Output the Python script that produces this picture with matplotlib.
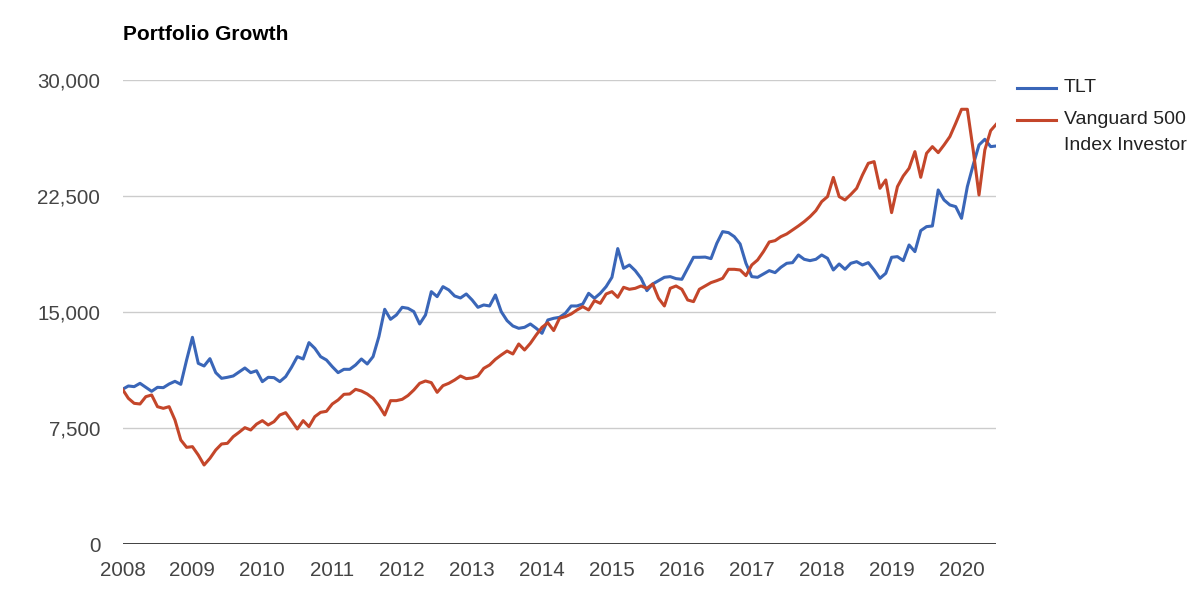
import numpy as np
import matplotlib.pyplot as plt
from matplotlib.lines import Line2D
from matplotlib.ticker import FuncFormatter

plt.rcParams['font.family'] = ['Liberation Sans', 'DejaVu Sans']

# monthly portfolio values, Jan 2008 -> Jul 2020
tlt = [10000, 10216, 10173, 10389, 10130, 9872, 10130, 10108, 10346, 10518,
       10324, 11897, 13363, 11681, 11509, 11983, 11078, 10712, 10777, 10863,
       11121, 11380, 11078, 11200, 10497, 10777, 10755, 10497, 10820, 11423,
       12113, 11962, 13019, 12652, 12113, 11897, 11466, 11078, 11294, 11294,
       11574, 11962, 11639, 12113, 13406, 15174, 14527, 14807, 15303, 15239,
       15023, 14225, 14807, 16316, 15993, 16640, 16424, 16036, 15906, 16165,
       15777, 15303, 15454, 15389, 16100, 15023, 14441, 14096, 13945, 14010,
       14225, 13945, 13622, 14484, 14592, 14656, 14915, 15389, 15389, 15518,
       16208, 15885, 16208, 16640, 17243, 19100, 17825, 18040, 17674, 17178,
       16380, 16812, 17027, 17243, 17286, 17157, 17114, 17825, 18536, 18536,
       18550, 18450, 19441, 20196, 20131, 19872, 19398, 18148, 17286, 17243,
       17458, 17674, 17545, 17890, 18148, 18191, 18687, 18407, 18320, 18407,
       18687, 18471, 17717, 18105, 17760, 18148, 18255, 18040, 18191, 17717,
       17178, 17501, 18536, 18579, 18320, 19333, 18902, 20260, 20519, 20562,
       22890, 22243, 21920, 21812, 21057, 23105, 24506, 25799, 26166, 25691,
       25735]

vfinx = [10000, 9419, 9095, 9052, 9526, 9634, 8879, 8771, 8879, 8018,
         6725, 6250, 6293, 5755, 5108, 5539, 6078, 6466, 6509, 6940,
         7221, 7522, 7371, 7750, 7975, 7695, 7910, 8341, 8491, 7975,
         7436, 7975, 7587, 8233, 8513, 8577, 9052, 9311, 9677, 9699,
         10000, 9893, 9699, 9419, 8944, 8341, 9268, 9268, 9354, 9600,
         9958, 10389, 10540, 10432, 9806, 10238, 10389, 10604, 10863, 10690,
         10734, 10863, 11358, 11574, 11940, 12221, 12479, 12285, 12932, 12544,
         12975, 13514, 14010, 14300, 13800, 14592, 14700, 14872, 15130, 15346,
         15130, 15734, 15561, 16165, 16316, 15950, 16596, 16467, 16531, 16682,
         16531, 16812, 15885, 15389, 16531, 16682, 16467, 15777, 15669, 16467,
         16682, 16898, 17027, 17178, 17760, 17760, 17717, 17350, 18040, 18363,
         18902, 19527, 19614, 19872, 20045, 20303, 20562, 20842, 21165, 21553,
         22136, 22459, 23700, 22459, 22243, 22600, 22997, 23859, 24614, 24721,
         22997, 23536, 21424, 23105, 23794, 24290, 25368, 23708, 25260, 25691,
         25303, 25799, 26338, 27200, 28106, 28106, 25476, 22566, 25476, 26726,
         27157]

years = list(range(2008, 2021))
yticks = [0, 7500, 15000, 22500, 30000]

x = np.arange(len(tlt))

fig = plt.figure(figsize=(12, 5.89), dpi=100)
ax = fig.add_axes([0.1021, 0.0764, 0.7283, 0.7878])

ax.plot(x, tlt, color='#3a66b8', linewidth=2.2, solid_joinstyle='round')
ax.plot(x, vfinx, color='#c4462a', linewidth=2.2, solid_joinstyle='round')

ax.set_xlim(0, len(tlt) - 1)
ax.set_ylim(0, 30000)
ax.set_yticks(yticks)
ax.yaxis.set_major_formatter(FuncFormatter(lambda v, p: f"{int(v):,}"))
ax.set_xticks([12 * i for i in range(len(years))])
ax.set_xticklabels([str(y) for y in years])

ax.grid(axis='y', color='#cccccc', linewidth=1)
ax.set_axisbelow(True)
ax.axhline(0, color='#333333', linewidth=1.3, zorder=1)
for s in ax.spines.values():
    s.set_visible(False)
ax.tick_params(axis='both', length=0, labelsize=14.8, colors='#444444')
ax.tick_params(axis='y', pad=16)
ax.tick_params(axis='x', pad=12)

fig.text(123 / 1200, 1 - 34 / 589, "Portfolio Growth", fontsize=15,
         fontweight='bold', va='center', ha='left', color='black')

# legend
for yy, col in [(88, '#3a66b8'), (120, '#c4462a')]:
    fy = 1 - yy / 589
    fig.add_artist(Line2D([1017 / 1200, 1056 / 1200], [fy, fy], color=col,
                          linewidth=2.2, transform=fig.transFigure))
fig.text(1064 / 1200, 1 - 88 / 589, "TLT", fontsize=14, va='center', color='#222222')
fig.text(1064 / 1200, 1 - 120 / 589, "Vanguard 500", fontsize=14, va='center', color='#222222')
fig.text(1064 / 1200, 1 - 146 / 589, "Index Investor", fontsize=14, va='center', color='#222222')

fig.savefig("out.png", dpi=100)
